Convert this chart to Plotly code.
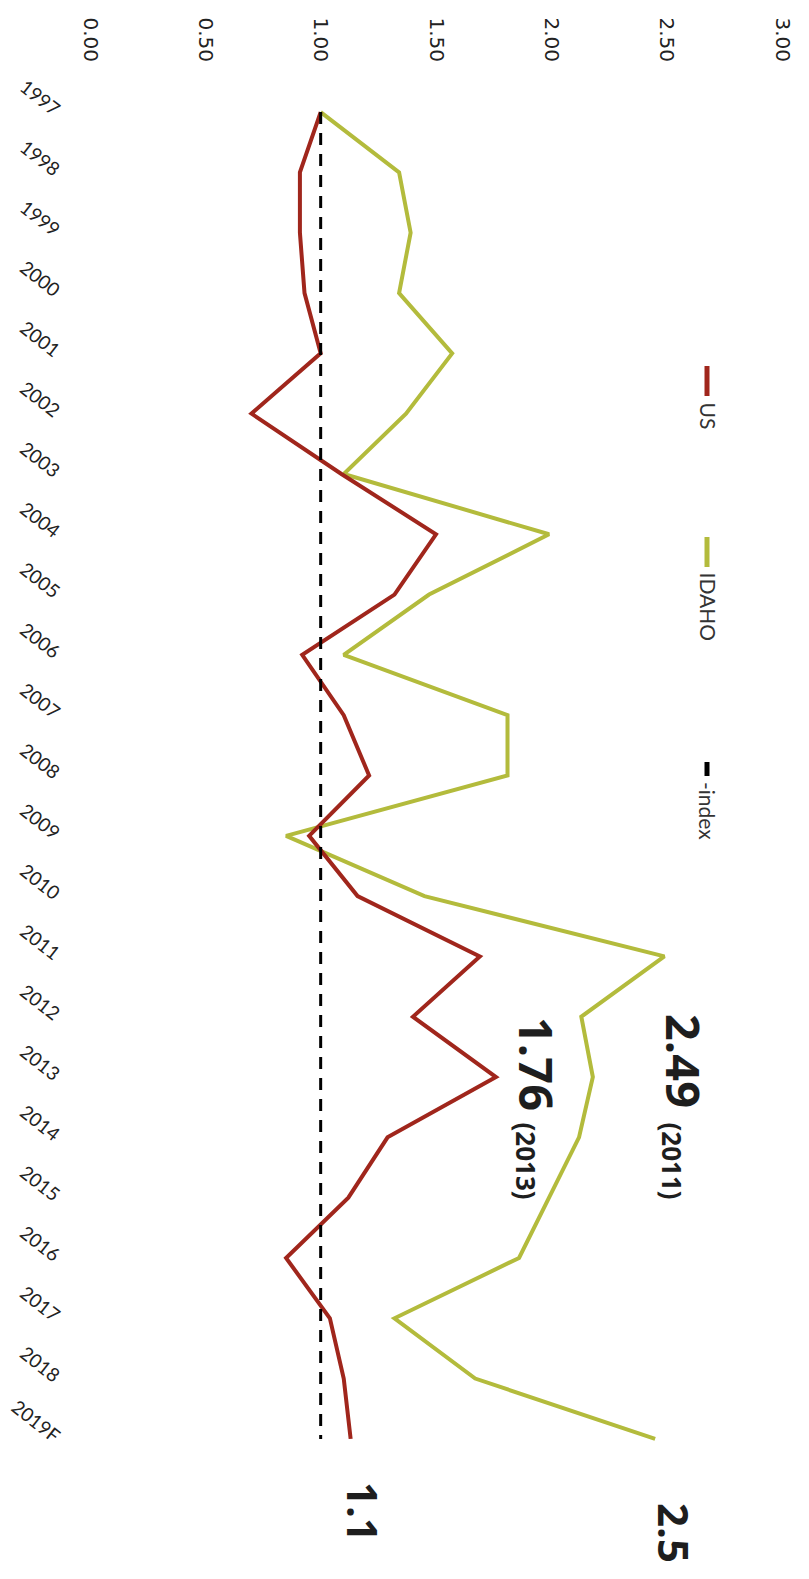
import plotly.graph_objects as go

years = ["1997", "1998", "1999", "2000", "2001", "2002", "2003", "2004", "2005", "2006",
         "2007", "2008", "2009", "2010", "2011", "2012", "2013", "2014", "2015", "2016",
         "2017", "2018", "2019F"]
us = [1.00, 0.91, 0.91, 0.93, 1.00, 0.70, 1.09, 1.50, 1.32, 0.92,
      1.10, 1.21, 0.95, 1.16, 1.69, 1.40, 1.76, 1.29, 1.12, 0.85,
      1.04, 1.10, 1.13]
idaho = [1.00, 1.34, 1.39, 1.34, 1.57, 1.37, 1.10, 1.99, 1.47, 1.10,
         1.81, 1.81, 0.85, 1.45, 2.49, 2.13, 2.18, 2.12, 1.99, 1.86,
         1.32, 1.67, 2.45]
index_line = [1.00, 1.00, 1.00, 1.00, 1.00, 1.00, 1.00, 1.00, 1.00, 1.00,
              1.00, 1.00, 1.00, 1.00, 1.00, 1.00, 1.00, 1.00, 1.00, 1.00,
              1.00, 1.00, 1.00]
x_tickvals = [0.0, 0.5, 1.0, 1.5, 2.0, 2.5, 3.0]
x_ticktext = ["0.00", "0.50", "1.00", "1.50", "2.00", "2.50", "3.00"]
series_names = ["US", "IDAHO", "- -index"]

RED = "#A0261C"
OLIVE = "#B3BB3C"
TXT = "#1e1e1e"

# page body has an 8px margin; size the figure so the plot lands where intended
OFF = 8
W, H = 809 - OFF, 1579 - OFF
ML, MR, MT, MB = 90 - OFF, 27, 88 - OFF, 116
PW, PH = W - ML - MR, H - MT - MB


def px2paper(px, py):
    # px, py are page pixel positions
    return (px - OFF - ML) / PW, (H + OFF - MB - py) / PH


fig = go.Figure()
fig.add_trace(go.Scatter(x=idaho, y=years, mode="lines", name=series_names[1],
                         line=dict(color=OLIVE, width=4)))
fig.add_trace(go.Scatter(x=us, y=years, mode="lines", name=series_names[0],
                         line=dict(color=RED, width=4)))
fig.add_trace(go.Scatter(x=index_line, y=years, mode="lines", name=series_names[2],
                         line=dict(color="black", width=3, dash="12px,9px")))

annotations = []
shapes = []

# custom rotated legend
legend_items = [
    (series_names[0], RED, 366, 396, 400),
    (series_names[1], OLIVE, 537, 567, 570),
    (series_names[2], "black", 762, 776, 780),
]
for name, col, d0, d1, t0 in legend_items:
    x0, y0 = px2paper(707, d0)
    _, y1 = px2paper(707, d1)
    shapes.append(dict(type="line", xref="paper", yref="paper", x0=x0, x1=x0, y0=y0, y1=y1,
                       line=dict(color=col, width=5)))
    label = name.replace("- -", "-") if col == "black" else name
    xa, ya = px2paper(708, t0)
    annotations.append(dict(text=label, xref="paper", yref="paper", x=xa, y=ya,
                            xanchor="center", yanchor="top", textangle=90, showarrow=False,
                            font=dict(family="Lato", size=21, color="#333333")))

# peak labels
i_peak = idaho.index(max(idaho))
u_peak = us.index(max(us))
big = [
    (f"{idaho[i_peak]:.2f}", 684, 1012, 47),
    (f"({years[i_peak]})", 672, 1120, 26),
    (f"{us[u_peak]:.2f}", 537, 1015, 47),
    (f"({years[u_peak]})", 526, 1120, 26),
    (f"{us[-1]:.1f}", 364, 1480, 42),
    (f"{idaho[-1]:.1f}", 675, 1501, 42),
]
for txt, px, py, fs in big:
    xa, ya = px2paper(px, py)
    annotations.append(dict(text=f"<b>{txt}</b>", xref="paper", yref="paper", x=xa, y=ya,
                            xanchor="center", yanchor="top", textangle=90, showarrow=False,
                            font=dict(family="Open Sans", size=fs, color=TXT)))

fig.update_layout(
    width=W, height=H,
    margin=dict(l=ML, r=MR, t=MT, b=MB, autoexpand=False),
    paper_bgcolor="white", plot_bgcolor="white",
    showlegend=False,
    xaxis=dict(range=[0, 3], side="top", tickvals=x_tickvals, ticktext=x_ticktext,
               tickangle=90, tickfont=dict(family="DejaVu Sans", size=20, color="#222222"),
               showgrid=False, zeroline=False, showline=False, ticks="",
               ticklabelstandoff=22, automargin=False),
    yaxis=dict(type="category", range=[22.4, -0.4], tickangle=38,
               tickfont=dict(family="Lato", size=19, color="#222222"),
               showgrid=False, zeroline=False, showline=False, ticks="",
               ticklabelstandoff=30, automargin=False),
    annotations=annotations,
    shapes=shapes,
)

fig.write_html("out.html")
